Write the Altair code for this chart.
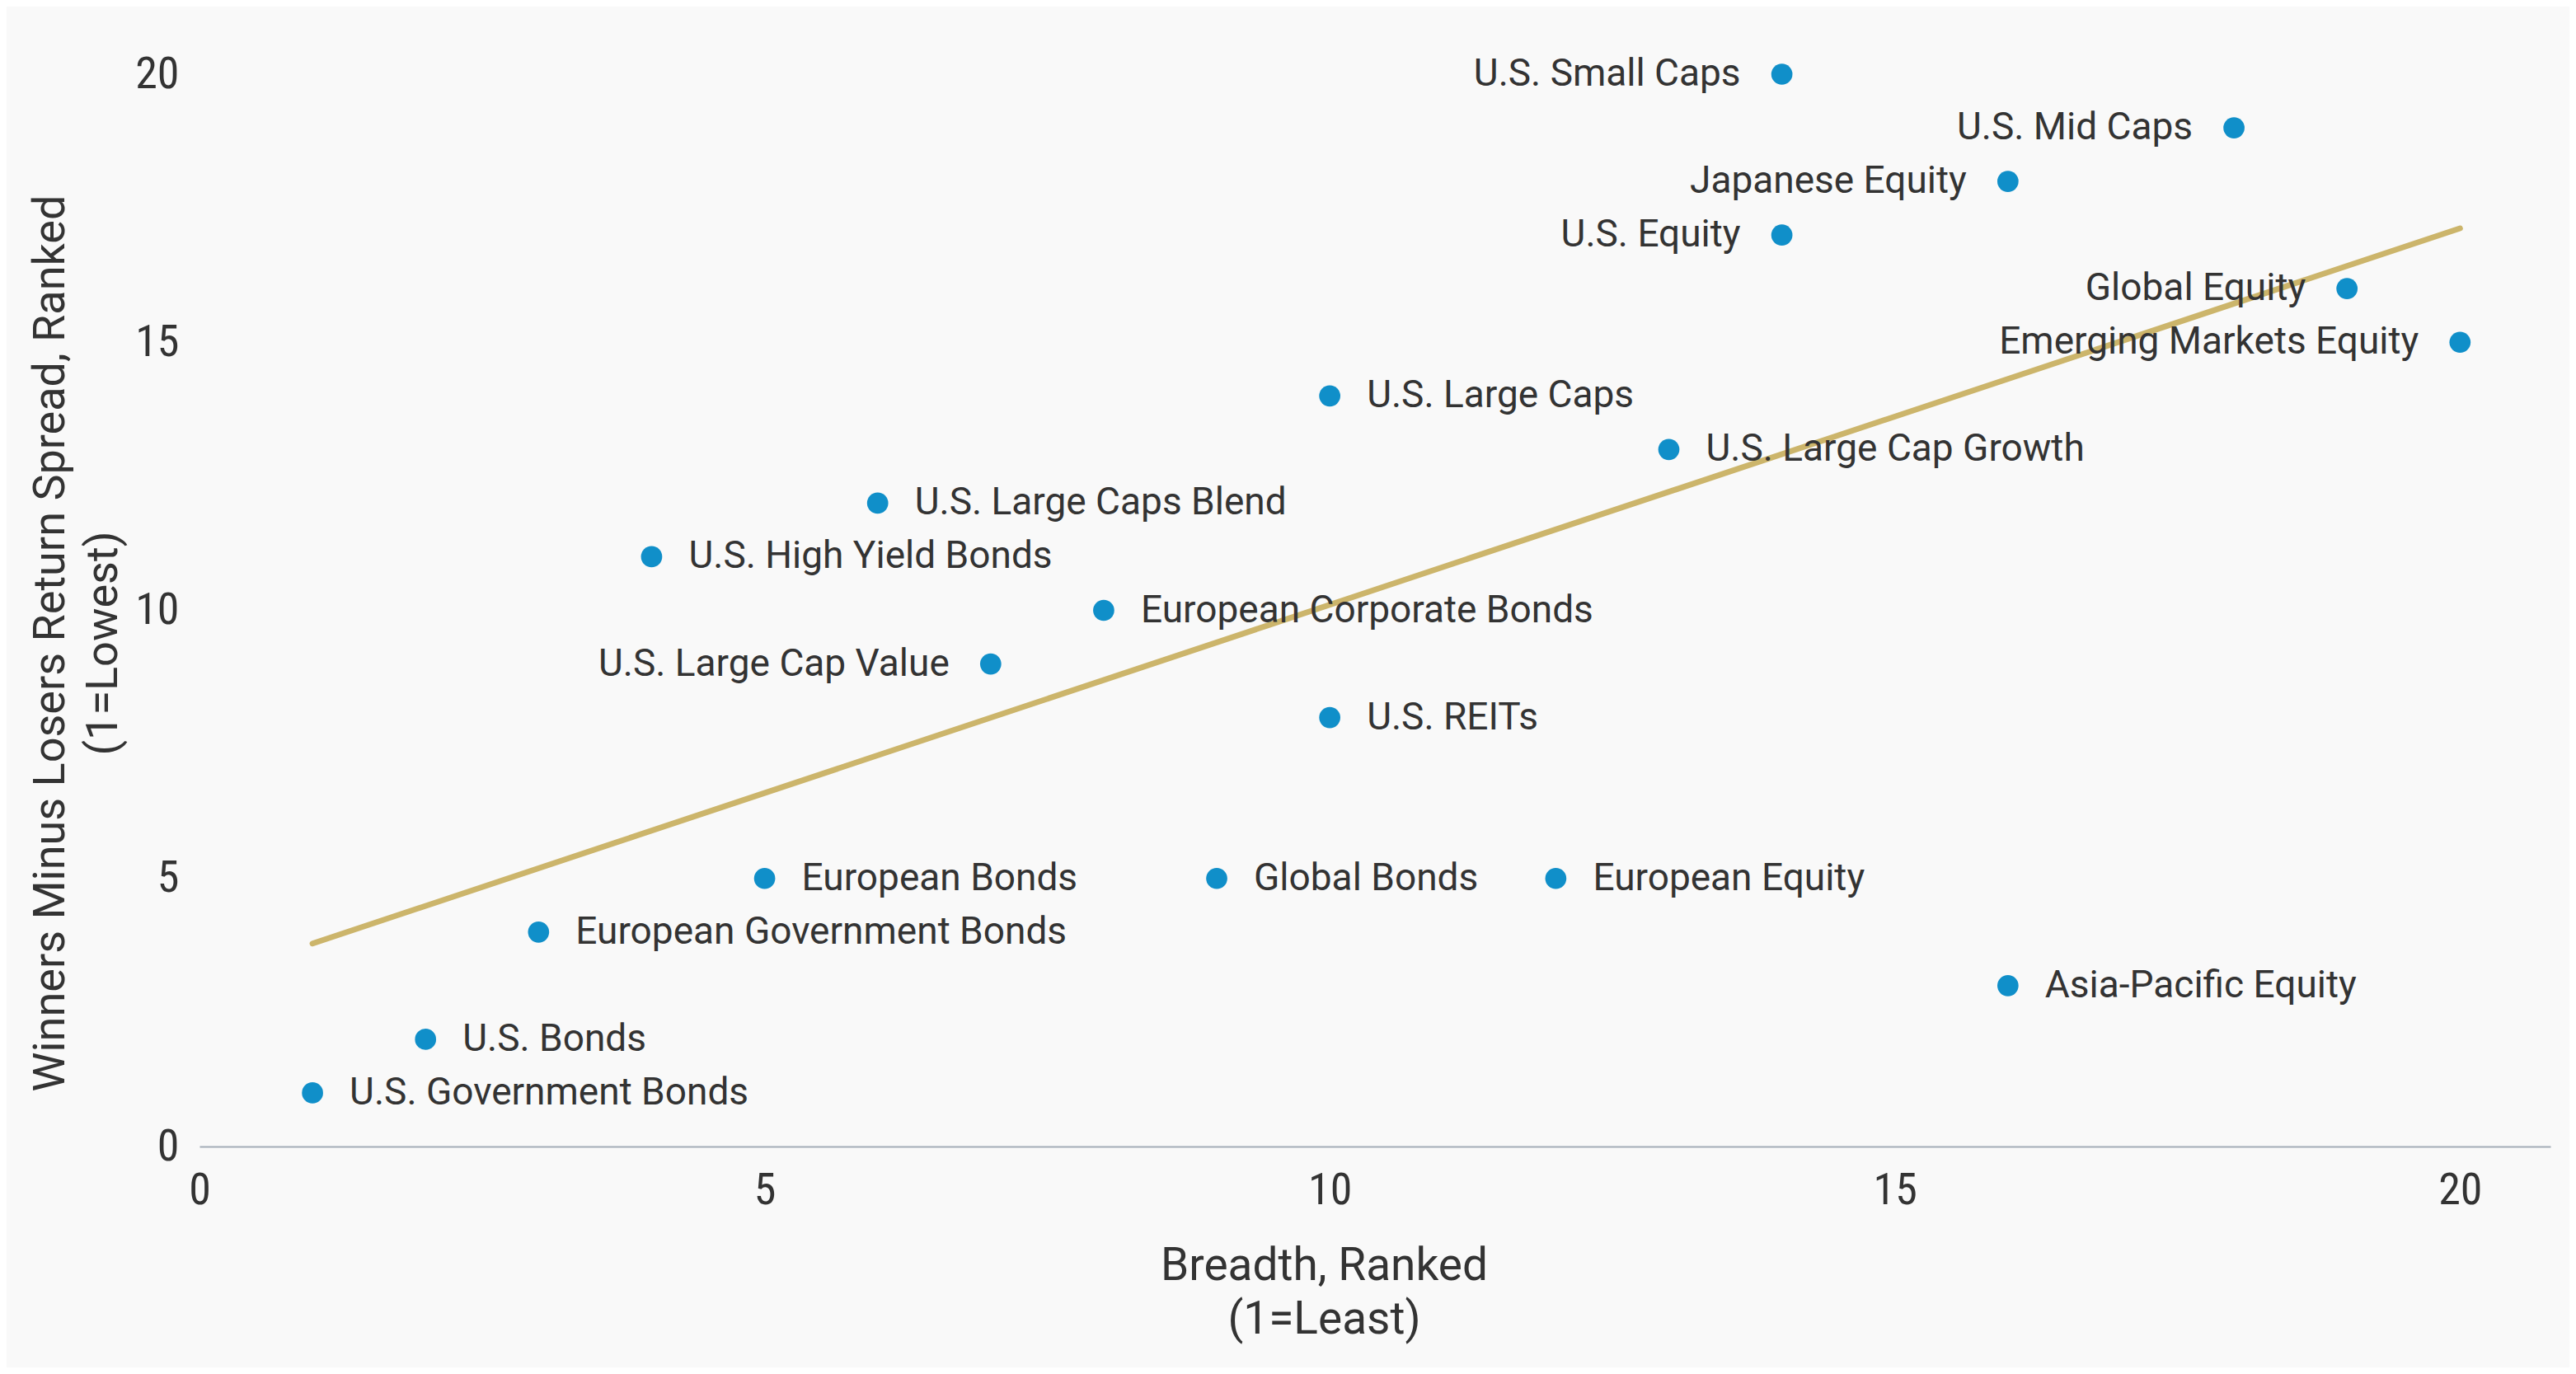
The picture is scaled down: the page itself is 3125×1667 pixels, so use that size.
import altair as alt
import pandas as pd

names = [
    "U.S. Government Bonds", "U.S. Bonds", "European Government Bonds",
    "U.S. High Yield Bonds", "European Bonds", "U.S. Large Caps Blend",
    "U.S. Large Cap Value", "European Corporate Bonds", "Global Bonds",
    "U.S. Large Caps", "U.S. REITs", "European Equity",
    "U.S. Large Cap Growth", "U.S. Small Caps", "U.S. Equity",
    "Japanese Equity", "Asia-Pacific Equity", "U.S. Mid Caps",
    "Global Equity", "Emerging Markets Equity",
]
breadth = [1, 2, 3, 4, 5, 6, 7, 8, 9, 10, 10, 12, 13, 14, 14, 16, 16, 18, 19, 20]
spread = [1, 2, 4, 11, 5, 12, 9, 10, 5, 14, 8, 5, 13, 20, 17, 18, 3, 19, 16, 15]
label_side = [
    "right", "right", "right", "right", "right", "right", "left", "right",
    "right", "right", "right", "right", "right", "left", "left", "left",
    "right", "left", "left", "left",
]
x_ticks = [0, 5, 10, 15, 20]
y_ticks = [0, 5, 10, 15, 20]

df = pd.DataFrame({"name": names, "breadth": breadth, "spread": spread, "side": label_side})

FONT = "Roboto"
TICK_FONT = "Roboto Condensed, Roboto"
TEXT = "#333333"

x_enc = alt.X(
    "breadth:Q",
    scale=alt.Scale(domain=[0, 20.8], nice=False, zero=False),
    axis=alt.Axis(
        values=x_ticks, title=["Breadth, Ranked", "(1=Least)"], grid=False,
        ticks=False, tickSize=0, domain=True, domainColor="#a3adb8", domainWidth=2,
        labelFont=TICK_FONT, labelFontSize=54, labelColor=TEXT, labelPadding=26,
        labelFlush=False, labelOverlap=False,
        titleFont=FONT, titleFontSize=55, titleFontWeight="normal", titleColor=TEXT,
        titleX=1364, titleY=118, titleBaseline="top", titleAlign="center",
        titleLineHeight=65,
    ),
)
y_enc = alt.Y(
    "spread:Q",
    scale=alt.Scale(domain=[0, 20], nice=False, zero=False),
    axis=alt.Axis(
        values=y_ticks, title=["Winners Minus Losers Return Spread, Ranked", "(1=Lowest)"],
        grid=False, ticks=False, tickSize=0, domain=False,
        labelFont=TICK_FONT, labelFontSize=54, labelColor=TEXT, labelPadding=25,
        labelFlush=False, labelOverlap=False, labelBaseline="middle",
        titleFont=FONT, titleFontSize=54, titleFontWeight="normal", titleColor=TEXT,
        titleAngle=270, titleX=-208, titleY=690, titleBaseline="top",
        titleAlign="center", titleLineHeight=64,
    ),
)

base = alt.Chart(df)

trend = base.transform_regression("breadth", "spread").mark_line(
    color="#ccb56b", strokeWidth=7, strokeCap="round"
).encode(x=x_enc, y=y_enc)

dots = base.mark_circle(size=660, color="#108fc9", opacity=1).encode(x=x_enc, y=y_enc)

right_labels = base.transform_filter(alt.datum.side == "right").mark_text(
    align="left", baseline="middle", dx=45, font=FONT, fontSize=46, color=TEXT
).encode(x=x_enc, y=y_enc, text="name:N")

left_labels = base.transform_filter(alt.datum.side == "left").mark_text(
    align="right", baseline="middle", dx=-50, font=FONT, fontSize=46, color=TEXT
).encode(x=x_enc, y=y_enc, text="name:N")

chart = alt.layer(trend, dots, right_labels, left_labels).properties(
    width=2852, height=1301,
    autosize=alt.AutoSizeParams(type="none"),
    padding={"left": 234, "top": 82, "right": 23, "bottom": 268},
    background="#f9f9f9",
).configure_view(stroke=None)

chart.save("out.html", embed_options={"renderer": "svg", "actions": False})
